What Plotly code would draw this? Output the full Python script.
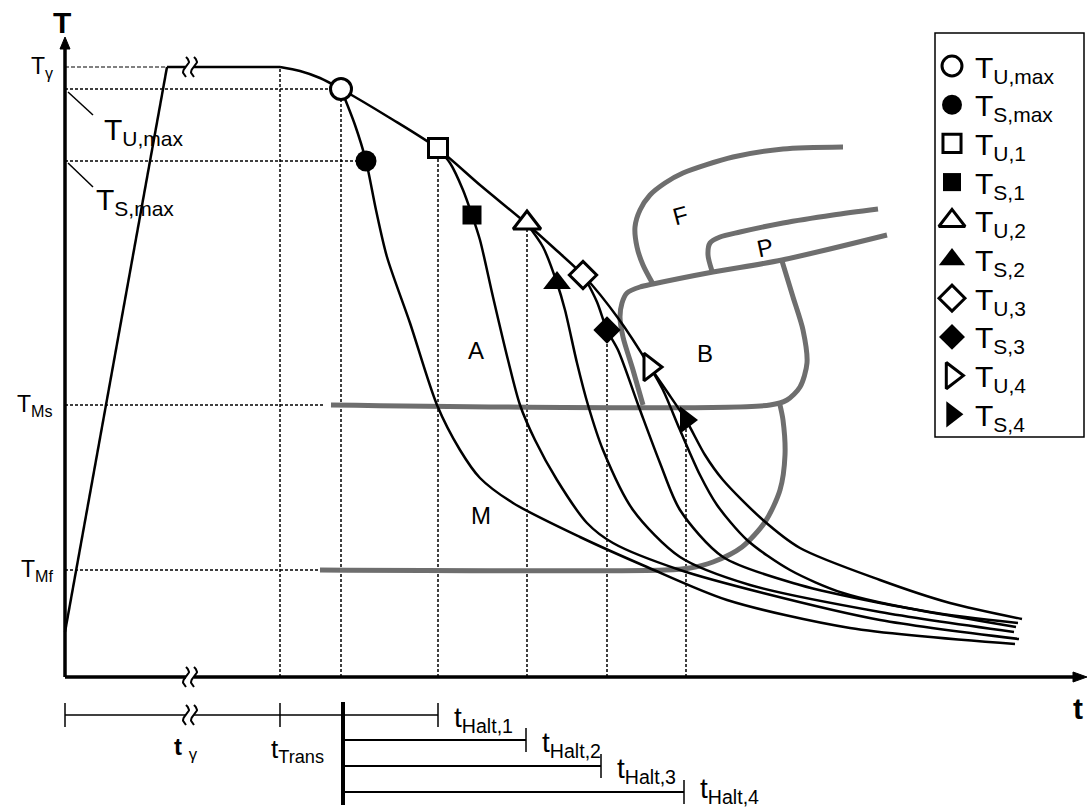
import numpy as np
import plotly.graph_objects as go

FONT = "Liberation Sans, Arial, sans-serif"
GREY = "#6e6e6e"

# levels on the T axis and times on the t axis (origin at the axis corner)
T_GAMMA, T_U_MAX, T_S_MAX, T_MS, T_MF = 610, 588, 516, 272, 107
heat_t = [0, 102]
heat_T = [45, 610]
plateau_t = [102, 215]

# main cooling path through the open markers
u_t = [215, 235, 255, 276, 325, 372, 415, 462, 490, 519, 553, 585, 598, 615, 635, 652, 682, 725, 778, 865, 953]
u_T = [610, 606, 599, 588, 559, 529, 492, 453, 428, 401, 359, 310, 287, 247, 202, 172, 137, 107, 84, 65, 54]

# branches that leave the main path at each stop
smax_t = [276, 290, 301, 311, 322, 345, 372, 395, 415, 448, 515, 582, 662, 785, 950]
smax_T = [588, 552, 516, 467, 420, 354, 272, 227, 199, 174, 140, 110, 77, 49, 33]
s1_t = [372, 385, 398, 407, 415, 428, 443, 455, 470, 492, 522, 548, 615, 698, 815, 954]
s1_T = [529, 514, 487, 462, 437, 380, 317, 272, 237, 197, 154, 134, 107, 84, 57, 38]
s2_t = [462, 478, 492, 500, 512, 523, 538, 568, 615, 685, 815, 949]
s2_T = [453, 430, 394, 367, 314, 272, 227, 167, 120, 92, 65, 45]
s3_t = [519, 532, 542, 553, 575, 595, 615, 658, 735, 815, 951]
s3_T = [401, 375, 347, 327, 267, 214, 167, 120, 92, 74, 50]
s4_t = [585, 603, 621, 640, 658, 698, 735, 815, 885, 957]
s4_T = [310, 284, 257, 222, 197, 157, 129, 97, 74, 58]

# markers
mk_names = ["T<sub>U,max</sub>", "T<sub>S,max</sub>", "T<sub>U,1</sub>", "T<sub>S,1</sub>",
            "T<sub>U,2</sub>", "T<sub>S,2</sub>", "T<sub>U,3</sub>", "T<sub>S,3</sub>",
            "T<sub>U,4</sub>", "T<sub>S,4</sub>"]
mk_t = [276, 301, 373, 407, 462, 492, 518, 542, 585, 621]
mk_T = [588, 516, 529, 462, 454, 394, 402, 347, 310, 257]
mk_sym = ["circle", "circle", "square", "square", "triangle-up", "triangle-up",
          "diamond", "diamond", "triangle-right", "triangle-right"]
mk_size = [21, 21, 19, 19, 24, 24, 21, 21, 24, 24]

# phase regions (grey)
ms_line_t = [266, 705, 722, 735, 742, 738, 728, 717]
ms_line_T = [272, 272, 277, 290, 314, 347, 380, 416]
mf_line_t = [255, 600, 625, 648, 677, 700, 715, 720, 718, 715]
mf_line_T = [107, 107, 109, 115, 130, 155, 187, 222, 257, 272]
b_top_t = [578, 568, 558, 555, 557, 562, 575, 588, 648, 717, 822]
b_top_T = [272, 307, 340, 360, 374, 384, 390, 393, 405, 417, 442]
f_t = [588, 578, 572, 570, 575, 585, 600, 618, 668, 718, 778]
f_T = [393, 412, 430, 450, 467, 482, 494, 504, 520, 528, 530]
p_t = [647, 643, 645, 655, 675, 718, 768, 813]
p_T = [406, 422, 434, 440, 445, 454, 462, 468]

# time bars below the axis
bar_T = [-38, -63, -89, -115]
bar_start = [0, 278, 278, 278]
bar_end = [373, 461, 536, 619]
halt_names = ["t<sub>Halt,1</sub>", "t<sub>Halt,2</sub>", "t<sub>Halt,3</sub>", "t<sub>Halt,4</sub>"]

fig = go.Figure()


def line(x, y, color="black", width=2.5, dash=None, shape="linear", fill=None):
    fig.add_trace(go.Scatter(
        x=x, y=y, mode="lines", hoverinfo="skip", showlegend=False,
        line=dict(color=color, width=width, dash=dash, shape=shape, smoothing=0.8),
        fill=fill, fillcolor=color if fill else None,
    ))


def text(x, y, s, size=22, xanchor="center", angle=0):
    fig.add_annotation(x=x, y=y, text=s, showarrow=False, xanchor=xanchor, yanchor="middle",
                       textangle=angle, font=dict(family=FONT, size=size, color="black"))


def marker(x, y, i, scale=1.0):
    filled = i % 2 == 1
    fig.add_trace(go.Scatter(
        x=[x], y=[y], mode="markers", hoverinfo="skip", showlegend=False,
        marker=dict(symbol=mk_sym[i], size=mk_size[i] * scale,
                    color="black" if filled else "white",
                    line=dict(color="black", width=0 if filled else 3)),
    ))


# dotted guides
DOT = "3px,2px"
for T, t_end in [(T_U_MAX, 276), (T_S_MAX, 301), (T_MS, 260), (T_MF, 253)]:
    line([0, t_end], [T, T], width=1.5, dash=DOT)
for t, T_top in [(215, 610), (276, 588), (373, 529), (462, 454), (542, 347), (621, 257)]:
    line([t, t], [0, T_top], width=1.5, dash=DOT)
line([0, 100], [T_GAMMA, T_GAMMA], color="#808080", width=2, dash="4px,2px")

# grey regions
for x, y in [(ms_line_t, ms_line_T), (mf_line_t, mf_line_T), (b_top_t, b_top_T), (f_t, f_T), (p_t, p_T)]:
    line(x, y, color=GREY, width=5, shape="spline")

# cooling curves
line(heat_t, heat_T)
line(plateau_t, [T_GAMMA, T_GAMMA])
for x, y in [(u_t, u_T), (smax_t, smax_T), (s1_t, s1_T), (s2_t, s2_T), (s3_t, s3_T), (s4_t, s4_T)]:
    line(x, y, shape="spline")

for i in range(len(mk_t)):
    marker(mk_t[i], mk_T[i], i)

# axis break marks
s = np.linspace(-1, 1, 30)


def break_mark(tc, Tc):
    line([tc - 4, tc + 4], [Tc, Tc], color="white", width=7)
    for dx in (-4, 4):
        line(list(tc + dx + 3 * np.sin(np.pi * s)), list(Tc + 10 * s), width=2)


# axes
line([0, 0], [0, 630], width=3.5)
line([0, 1012], [0, 0], width=3.5)
line([-5, 5, 0, -5], [628, 628, 640, 628], width=1, fill="toself")
line([1008, 1008, 1022, 1008], [-5, 5, 0, -5], width=1, fill="toself")

# time bars
for i in range(4):
    line([bar_start[i], bar_end[i]], [bar_T[i], bar_T[i]], width=1.5 if i == 0 else 2)
    line([bar_end[i], bar_end[i]], [bar_T[i] - 12, bar_T[i] + 12], width=1.5)
halt_T = [-42, -67, -93, -113]
for i in range(4):
    text(bar_end[i] + 14, halt_T[i], halt_names[i], size=28, xanchor="left")
for t in (0, 215):
    line([t, t], [bar_T[0] - 12, bar_T[0] + 12], width=1.5)
line([278, 278], [-25, -128], width=4)

for tc, Tc in [(125, 0), (125, T_GAMMA), (125, bar_T[0])]:
    break_mark(tc, Tc)

# labels
text(-3, 655, "<b>T</b>", size=30)
text(1013, -31, "<b>t</b>", size=30)
text(-10, T_GAMMA, "T<sub>γ</sub>", size=23, xanchor="right")
text(-10, T_MS, "T<sub>Ms</sub>", size=23, xanchor="right")
text(-10, T_MF, "T<sub>Mf</sub>", size=23, xanchor="right")
line([3, 28], [585, 562], width=1.5)
line([3, 28], [514, 490], width=1.5)
text(37, 546, "T<sub>U,max</sub>", size=30, xanchor="left")
text(29, 476, "T<sub>S,max</sub>", size=30, xanchor="left")
text(121, -71, "<b>t</b> <sub>γ</sub>", size=24)
text(232, -73, "t<sub>Trans</sub>", size=26)
text(411, 327, "A", size=24)
text(640, 324, "B", size=24)
text(416, 162, "M", size=24)
text(615, 462, "F", size=24, angle=-15)
text(700, 430, "P", size=24, angle=-12)

# legend box
leg_T = [677 - (66 + 38.7 * i) for i in range(10)]
fig.add_shape(type="rect", x0=870, x1=1019, y0=240, y1=644, line=dict(color="black", width=1.5))
for i in range(10):
    marker(887, leg_T[i], i, scale=0.95)
    text(908, leg_T[i] - 3, mk_names[i], size=30, xanchor="left")

fig.update_layout(
    width=1089, height=807,
    margin=dict(l=0, r=0, t=0, b=0),
    paper_bgcolor="white", plot_bgcolor="white",
    xaxis=dict(range=[-65, 1024], visible=False, fixedrange=True),
    yaxis=dict(range=[-130, 677], visible=False, fixedrange=True),
)

# drop the page's default body margin so the figure fills the window exactly
fig.write_html(
    "out.html",
    config={"displayModeBar": False},
    post_script="document.body.style.margin='0';document.body.style.overflow='hidden';",
)
